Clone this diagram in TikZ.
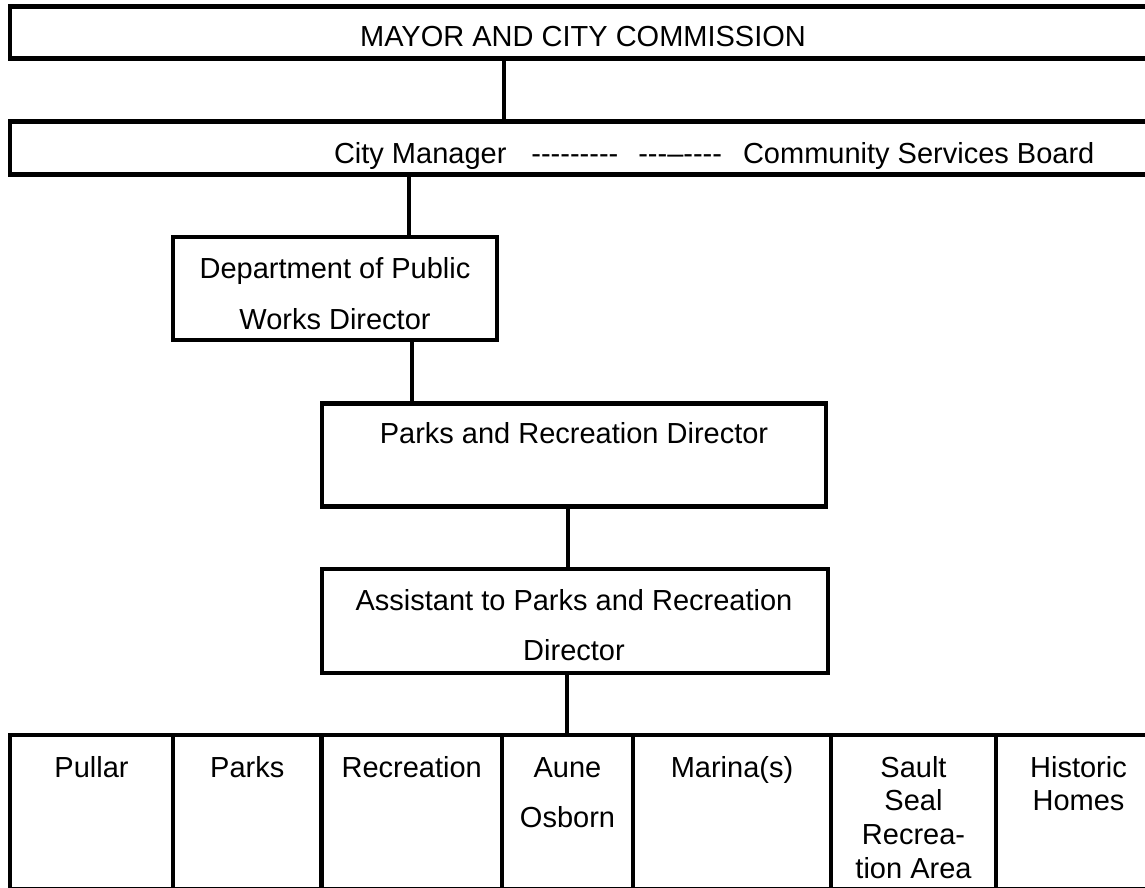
\documentclass[tikz,border=0pt]{standalone}
\usepackage{fontspec}
\setmainfont{Liberation Sans}
\newcommand\mlines[2]{\vtop{\baselineskip=#1\relax\halign{\hfil##\hfil\cr#2\crcr}}}
\begin{document}
\begin{tikzpicture}[x=1pt,y=-1pt,
  box/.style={draw, line width=4.7pt, inner sep=0pt, outer sep=0pt, rectangle},
  conn/.style={line width=4.7pt},
  txt/.style={inner sep=0pt, outer sep=0pt, font=\fontsize{29}{34}\selectfont, anchor=base}]
\useasboundingbox (0,0) rectangle (1145,888);
\clip (0,0) rectangle (1145,888);
\fill[white] (0,0) rectangle (1145,888);
% boxes
\node[box, minimum width=1150pt, minimum height=52pt] (mayor) at (585,32.3) {};
\node[box, minimum width=1150pt, minimum height=52.6pt] (cm) at (585,148) {};
\node[box, minimum width=324pt, minimum height=103pt] (dpw) at (335,288.5) {};
\node[box, minimum width=504pt, minimum height=103.5pt] (pr) at (574,455) {};
\node[box, minimum width=506pt, minimum height=104pt] (asst) at (575,621) {};
% bottom row cells
\node[box, minimum width=163pt, minimum height=154.5pt] (pullar) at (91.5,812.25) {};
\node[box, minimum width=148.5pt, minimum height=154.5pt] (parks) at (247.25,812.25) {};
\node[box, minimum width=180.5pt, minimum height=154.5pt] (recr) at (411.75,812.25) {};
\node[box, minimum width=131pt, minimum height=154.5pt] (aune) at (567.5,812.25) {};
\node[box, minimum width=198pt, minimum height=154.5pt] (marina) at (732,812.25) {};
\node[box, minimum width=165pt, minimum height=154.5pt] (sault) at (913.5,812.25) {};
\node[box, minimum width=165pt, minimum height=154.5pt] (historic) at (1078.5,812.25) {};
% connectors
\draw[conn] (mayor.south -| 504,0) -- (cm.north -| 504,0);
\draw[conn] (cm.south -| 409,0) -- (dpw.north -| 409,0);
\draw[conn] (dpw.south -| 412,0) -- (pr.north -| 412,0);
\draw[conn] (pr.south -| 568,0) -- (asst.north -| 568,0);
\draw[conn] (asst.south -| 567,0) -- (aune.north -| 567,0);
% texts
\node[txt] (tmayor) at (583,47) {MAYOR AND CITY COMMISSION};
\node[txt, anchor=base west] (tcm) at (334,163) {City Manager\hspace{25pt}-{}-{}-{}-{}-{}-{}-{}-{}-\hspace{20pt}-{}-{}-{}–{}-{}-{}-{}-\hspace{21pt}Community Services Board};
\node[txt] (tdpw) at (335,278) {\mlines{51pt}{Department of Public\cr Works Director}};
\node[txt] (tpr) at (574,443) {Parks and Recreation Director};
\node[txt] (tasst) at (574,610) {\mlines{50pt}{Assistant to Parks and Recreation\cr Director}};
\node[txt] (tpullar) at (91.5,777) {Pullar};
\node[txt] (tparks) at (247.25,777) {Parks};
\node[txt] (trecr) at (411.75,777) {Recreation};
\node[txt] (taune) at (567.5,777) {\mlines{50pt}{Aune\cr Osborn}};
\node[txt] (tmarina) at (732,777) {Marina(s)};
\node[txt] (tsault) at (913.5,777) {\mlines{33.7pt}{Sault\cr Seal\cr Recrea-\cr tion Area}};
\node[txt] (thistoric) at (1078.5,777) {\mlines{33.5pt}{Historic\cr Homes}};
\end{tikzpicture}
\end{document}
